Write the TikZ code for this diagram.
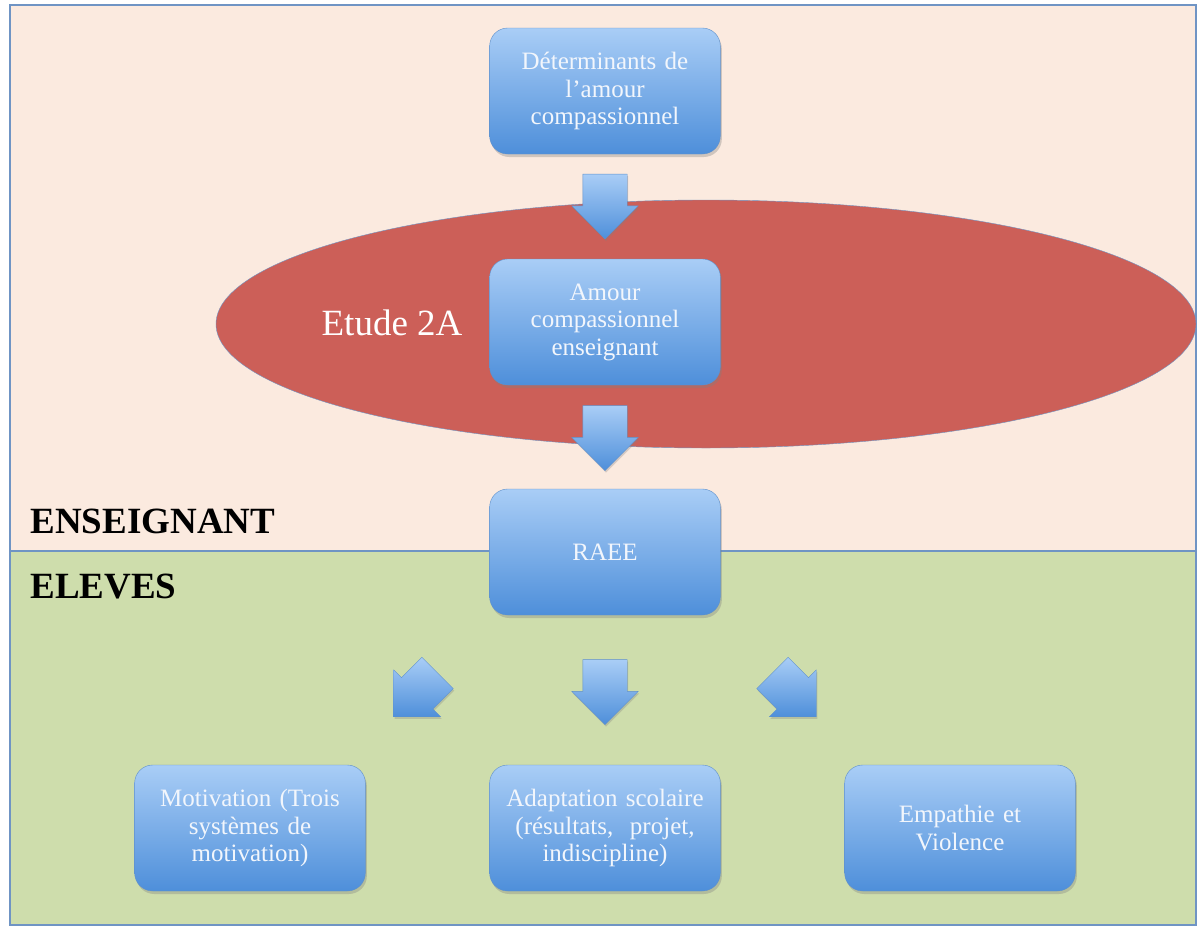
\documentclass[tikz,border=0pt]{standalone}
\usepackage{fontspec}
\setmainfont{Liberation Serif}
\usetikzlibrary{shapes.geometric,shapes.arrows,shadows,calc}

\definecolor{peach}{HTML}{FBEADF}
\definecolor{sage}{HTML}{CEDDAC}
\definecolor{frameblue}{HTML}{6F94C4}
\definecolor{studyred}{HTML}{CC5F58}
\definecolor{boxtop}{HTML}{A9CDF6}
\definecolor{boxbot}{HTML}{4E8FDA}
\definecolor{boxline}{HTML}{5F90CB}
\definecolor{boxtext}{HTML}{F2F6FC}

\begin{document}
\begin{tikzpicture}[x=1pt, y=-1pt,
    box/.style={rectangle, rounded corners=18pt, draw=boxline, thin,
        top color=boxtop, bottom color=boxbot,
        minimum width=230pt, minimum height=126pt, text width=224pt,
        align=center, text=boxtext, font=\fontsize{25}{27.5}\selectfont,
        drop shadow={shadow xshift=1.5pt, shadow yshift=-3pt, opacity=0.35}},
    blockarrow/.style={single arrow, draw=boxline, thin,
        top color=boxtop, bottom color=boxbot,
        minimum height=#1, minimum width=66pt, single arrow head extend=11pt,
        inner xsep=0pt, inner ysep=22pt,
        drop shadow={shadow xshift=1pt, shadow yshift=-2pt, opacity=0.3}},
    blockarrow/.default=65pt,
    zone/.style={font=\bfseries\fontsize{37}{40}\selectfont, anchor=base west}]

    \useasboundingbox (0,0) rectangle (1200,929);

    % Two zones: teacher (top) and pupils (bottom)
    \fill[peach] (10,5) rectangle (1196,551);
    \fill[sage] (10,551) rectangle (1196,925);
    \draw[frameblue, line width=1.2pt] (10,5) rectangle (1196,925);
    \draw[frameblue, line width=1.2pt] (10,551) -- (1196,551);

    % Study 2A
    \node (etude) at (706,324) [ellipse, draw=frameblue, fill=studyred,
        minimum width=980pt, minimum height=248pt] {};
    \node (etudeLbl) at (392,323) [text=white, font=\fontsize{37}{40}\selectfont] {Etude 2A};

    \node (lblEns) at (27,533) [zone] {ENSEIGNANT};
    \node (lblEle) at (27,598) [zone] {ELEVES};

    % Boxes
    \node (det) at (605,91) [box] {Déterminants de\\ l’amour\\ compassionnel};
    \node (amour) at (605,322) [box] {Amour\\ compassionnel\\ enseignant};
    \node (raee) at (605,552) [box] {RAEE};
    \node (motiv) at (250,828) [box] {Motivation (Trois\\ systèmes de\\ motivation)};
    \node (adapt) at (605,828) [box] {Adaptation scolaire\\ (résultats,~ projet,\\ indiscipline)};
    \node (empat) at (960,828) [box] {Empathie et\\ Violence};

    % Block arrows between the boxes
    \node (a1) at ($(det.south)!0.5!(amour.north)+(0,-11)$) [blockarrow, rotate=-90] {};
    \node (a2) at ($(amour.south)!0.5!(raee.north)+(0,-10)$) [blockarrow, rotate=-90] {};
    \node (a3) at ($(raee.south)!0.5!(adapt.north)+(0,-9)$) [blockarrow, rotate=-90] {};
    \node (a4) at ($(raee.center)!0.5!(motiv.center)+(-4,-3)$) [blockarrow=62pt, rotate=-135] {};
    \node (a5) at ($(raee.center)!0.5!(empat.center)+(4,-3)$) [blockarrow=62pt, rotate=-45] {};
\end{tikzpicture}
\end{document}
